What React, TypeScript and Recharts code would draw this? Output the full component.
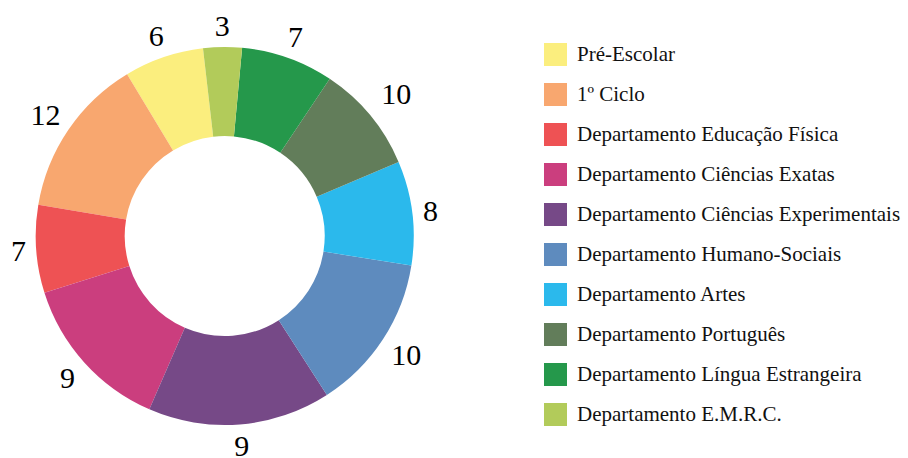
import { PieChart, Pie, Cell, Legend } from "recharts";

// Department names (legend order, slices run counter-clockwise from the top)
const departments = [
  "Pré-Escolar",
  "1º Ciclo",
  "Departamento Educação Física",
  "Departamento Ciências Exatas",
  "Departamento Ciências Experimentais",
  "Departamento Humano-Sociais",
  "Departamento Artes",
  "Departamento Português",
  "Departamento Língua Estrangeira",
  "Departamento E.M.R.C.",
];

// Numbers printed next to each slice
const counts = [6, 12, 7, 9, 9, 10, 8, 10, 7, 3];

// Slice sizes as drawn in the picture (% of the ring)
const shares = [6.8, 13.7, 7.5, 13.6, 15.6, 13.4, 8.9, 9.2, 7.9, 3.3];

const COLORS = [
  "#FBEE7E",
  "#F8A76F",
  "#EE5254",
  "#CB3E7E",
  "#764987",
  "#5E8BBE",
  "#2BB9EC",
  "#627D5A",
  "#25984B",
  "#B2CB5A",
];

const data = departments.map((name, i) => ({
  name,
  value: shares[i],
  count: counts[i],
}));

const FONT = "Liberation Serif, Times New Roman, serif";
const RAD = Math.PI / 180;

const renderLabel = (props: any) => {
  const { cx, cy, midAngle, outerRadius, index } = props;
  const text = String(counts[index]);
  const w = text.length * 14;
  const h = 22;
  const c = Math.cos(-midAngle * RAD);
  const s = Math.sin(-midAngle * RAD);
  let r = outerRadius + 10 + (w / 2) * Math.abs(c) + (h / 2) * Math.abs(s);
  if (text.length > 1 && c > 0.5 && s < 0) r += 6;
  return (
    <text
      key={`lbl-${index}`}
      x={cx + r * c}
      y={cy + r * s}
      textAnchor="middle"
      dominantBaseline="central"
      style={{ fontFamily: FONT, fontSize: 30 }}
      fill="#000"
    >
      {text}
    </text>
  );
};

const renderLegend = () => (
  <div style={{ fontFamily: FONT, fontSize: 21, color: "#111" }}>
    {departments.map((name, i) => (
      <div
        key={name}
        style={{ display: "flex", alignItems: "center", height: 40 }}
      >
        <span
          style={{
            display: "inline-block",
            width: 23,
            height: 23,
            background: COLORS[i],
            marginRight: 10,
            flexShrink: 0,
          }}
        />
        <span style={{ whiteSpace: "nowrap" }}>{name}</span>
      </div>
    ))}
  </div>
);

export default function App() {
  return (
    <div style={{ position: "absolute", left: 0, top: 0, background: "#fff" }}>
      <PieChart
        width={908}
        height={458}
        margin={{ top: 0, right: 0, bottom: 0, left: 0 }}
      >
        <Pie
          data={data}
          dataKey="value"
          nameKey="name"
          cx={224.7}
          cy={236}
          innerRadius={100}
          outerRadius={189}
          startAngle={96.6}
          endAngle={456.6}
          stroke="none"
          label={renderLabel}
          labelLine={false}
          isAnimationActive={false}
        >
          {data.map((d, i) => (
            <Cell key={d.name} fill={COLORS[i]} />
          ))}
        </Pie>
        <Legend
          content={renderLegend}
          wrapperStyle={{ left: 544, top: 34.5, width: 364 }}
        />
      </PieChart>
    </div>
  );
}
